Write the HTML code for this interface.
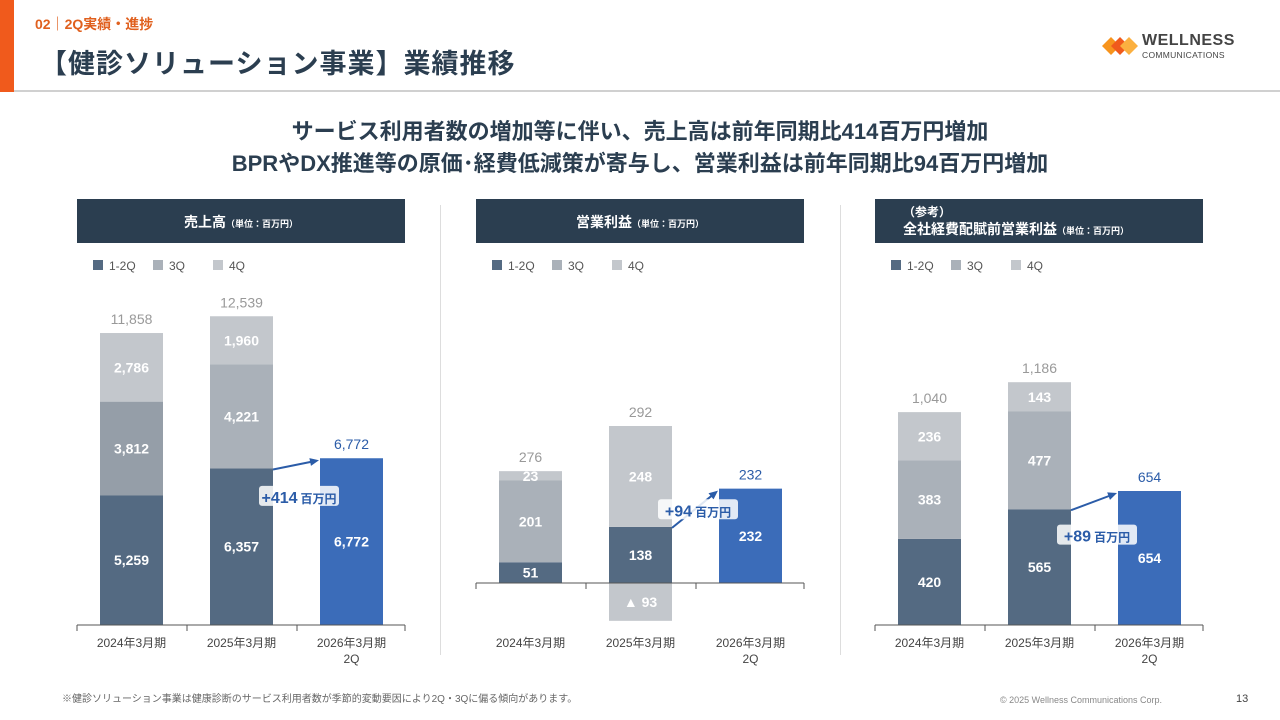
<!DOCTYPE html>
<html><head><meta charset="utf-8"><style>
body{margin:0;width:1280px;height:720px;background:#fff;font-family:"Liberation Sans","Noto Sans CJK JP",sans-serif;position:relative;overflow:hidden}
.abs{position:absolute}
</style></head><body>
<div class="abs" style="left:0;top:0;width:14px;height:92px;background:#f05a1c"></div>
<div class="abs" style="left:35px;top:14px;font-size:14px;color:#e0601e;font-weight:bold">02｜2Q実績・進捗</div>
<div class="abs" style="left:40px;top:42px;font-size:27px;color:#2b3e50;font-weight:bold;letter-spacing:1px">【健診ソリューション事業】業績推移</div>
<div class="abs" style="left:14px;top:90px;width:1266px;height:2px;background:#d0d0d0"></div>
<div class="abs" style="left:1102px;top:33px;width:140px;height:30px">
<svg width="36" height="24" style="position:absolute;left:0;top:2px"><polygon points="0,11 9,2 18,11 9,20" fill="#f7941d"/><polygon points="9,11 18,2 27,11 18,20" fill="#f05a1c"/><polygon points="18,11 27,2 36,11 27,20" fill="#fbb040"/></svg>
<div style="position:absolute;left:40px;top:-1px;font-size:16px;font-weight:bold;color:#444;letter-spacing:0.5px">WELLNESS</div>
<div style="position:absolute;left:40px;top:17px;font-size:8.5px;color:#444;letter-spacing:0.3px">COMMUNICATIONS</div></div>
<div class="abs" style="left:0;width:1280px;top:116px;text-align:center;font-size:22px;font-weight:bold;color:#2b3e50;line-height:32px">サービス利用者数の増加等に伴い、売上高は前年同期比414百万円増加<br>BPRやDX推進等の原価･経費低減策が寄与し、営業利益は前年同期比94百万円増加</div>
<div class="abs" style="left:440px;top:205px;width:1px;height:450px;background:#ddd"></div>
<div class="abs" style="left:840px;top:205px;width:1px;height:450px;background:#ddd"></div>
<div class="abs" style="left:62px;top:690px;font-size:10px;color:#666">※健診ソリューション事業は健康診断のサービス利用者数が季節的変動要因により2Q・3Qに偏る傾向があります。</div>
<div class="abs" style="left:1000px;top:695px;font-size:9px;color:#888">© 2025 Wellness Communications Corp.</div>
<div class="abs" style="left:1236px;top:693px;font-size:11px;color:#444">13</div>
<svg id="chart" class="abs" style="left:0;top:0" width="1280" height="720"></svg>
<script>
const categories=["2024年3月期","2025年3月期","2026年3月期|2Q"];
const salesH1=[5259,6357,6772];
const sales3Q=[3812,4221,0];
const sales4Q=[2786,1960,0];
const salesTotal=[11858,12539,6772];
const opH1=[51,138,232];
const op3Q=[201,-93,0];
const op4Q=[23,248,0];
const opTotal=[276,292,232];
const corpH1=[420,565,654];
const corp3Q=[383,477,0];
const corp4Q=[236,143,0];
const corpTotal=[1040,1186,654];
const deltas=["+414","+94","+89"];
const titles=[["売上高","（単位：百万円）"],["営業利益","（単位：百万円）"],["（参考）|全社経費配賦前営業利益","（単位：百万円）"]];
const svg=document.getElementById('chart');
const NS="http://www.w3.org/2000/svg";
function mk(t,a,txt){const e=document.createElementNS(NS,t);for(const k in a)e.setAttribute(k,a[k]);if(txt!==undefined)e.textContent=txt;svg.appendChild(e);return e;}
const charts=[
 {x0:77,base:625,scale:292/11858,h1:salesH1,q3:sales3Q,q4:sales4Q,tot:salesTotal,q3c:["#959ea8","#aab1b9"],ldy:32},
 {x0:476,base:583,scale:157/386,h1:opH1,q3:op3Q,q4:op4Q,tot:opTotal,q3c:["#aab1b9","#c3c7cc"],ldy:1},
 {x0:875,base:625,scale:243/1186,h1:corpH1,q3:corp3Q,q4:corp4Q,tot:corpTotal,q3c:["#aab1b9","#aab1b9"],ldy:34}
];
charts.forEach((c,ci)=>{
 const hd=mk('rect',{x:c.x0,y:199,width:328,height:44,fill:"#2b3e50"});
 
 
 const tl=titles[ci][0].split('|');
 if(tl.length==1){const t=mk('text',{x:c.x0+164,y:227,'text-anchor':'middle',fill:'#fff','font-size':14,'font-weight':'bold'});t.innerHTML=tl[0]+'<tspan font-size="9">'+titles[ci][1]+'</tspan>';}
 else{mk('text',{x:c.x0+28,y:216,fill:'#fff','font-size':12,'font-weight':'bold'},tl[0]);const t=mk('text',{x:c.x0+28,y:234,fill:'#fff','font-size':14,'font-weight':'bold'});t.innerHTML=tl[1]+'<tspan font-size="9">'+titles[ci][1]+'</tspan>';}
 [["1-2Q","#546a82"],["3Q","#aab1b9"],["4Q","#c3c7cc"]].forEach((l,i)=>{
  const lx=c.x0+16+i*60;
  const r=mk('rect',{x:lx,y:260,width:10,height:10,fill:l[1]});
  
  
  mk('text',{x:lx+16,y:270,'font-size':12,fill:'#555'},l[0]);
 });
 const bw=63,slot=110;
 const bx=i=>c.x0+23+i*slot;
 const Y=v=>c.base-v*c.scale;
 categories.forEach((cat,i)=>{
  const x=bx(i);const last=i==2;
  const b1=mk('rect',{x:x,y:Y(c.h1[i]),width:bw,height:c.h1[i]*c.scale,fill:last?"#3b6cb9":"#546a82"});
  
  
  mk('text',{x:x+bw/2,y:(Y(c.h1[i])+c.base)/2+5,'text-anchor':'middle',fill:'#fff','font-size':14,'font-weight':'bold'},c.h1[i].toLocaleString());
  let top=c.h1[i];
  if(c.q3[i]>0){
   const b=mk('rect',{x:x,y:Y(top+c.q3[i]),width:bw,height:c.q3[i]*c.scale,fill:c.q3c[i]||"#aab1b9"});
   
   
   mk('text',{x:x+bw/2,y:Y(top+c.q3[i]/2)+5,'text-anchor':'middle',fill:'#fff','font-size':14,'font-weight':'bold'},c.q3[i].toLocaleString());
   top+=c.q3[i];
  } else if(c.q3[i]<0){
   const b=mk('rect',{x:x,y:c.base,width:bw,height:-c.q3[i]*c.scale,fill:"#c3c7cc"});
   
   
   mk('text',{x:x+bw/2,y:c.base-c.q3[i]*c.scale/2+5,'text-anchor':'middle',fill:'#fff','font-size':14,'font-weight':'bold'},'▲ '+(-c.q3[i]));
  }
  if(c.q4[i]>0){
   const b=mk('rect',{x:x,y:Y(top+c.q4[i]),width:bw,height:c.q4[i]*c.scale,fill:"#c3c7cc"});
   
   
   mk('text',{x:x+bw/2,y:Y(top+c.q4[i]/2)+5,'text-anchor':'middle',fill:'#fff','font-size':14,'font-weight':'bold'},c.q4[i].toLocaleString());
   top+=c.q4[i];
  }
  mk('text',{x:x+bw/2,y:Y(top)-9,'text-anchor':'middle',fill:last?'#2b5ca8':'#999','font-size':14},c.tot[i].toLocaleString());
  const cl=cat.split('|');
  cl.forEach((s,k)=>mk('text',{x:x+bw/2,y:647+k*16,'text-anchor':'middle',fill:'#444','font-size':12},s));
 });
 const ax=mk('line',{x1:c.x0,x2:c.x0+328,y1:c.base,y2:c.base,stroke:'#555','stroke-width':1});
 
 
 [0,1,2,3].forEach(k=>{const tx=c.x0+k*slot-(k==3?2:0);mk('line',{x1:tx,x2:tx,y1:c.base,y2:c.base+6,stroke:'#555'});});
 const prevTop=c.h1[1], curTop=c.h1[2];
 const x1=bx(1)+bw,y1=Y(prevTop)+1,x2=bx(2)-1,y2=Y(curTop)+2;
 mk('line',{x1:x1,y1:y1,x2:x2-5,y2:y2+(y1-y2)*5/(x2-x1),stroke:'#2b5ca8','stroke-width':2});
 const ang=Math.atan2(y2-y1,x2-x1);
 const p=[[x2,y2],[x2-9*Math.cos(ang)+4*Math.sin(ang),y2-9*Math.sin(ang)-4*Math.cos(ang)],[x2-9*Math.cos(ang)-4*Math.sin(ang),y2-9*Math.sin(ang)+4*Math.cos(ang)]];
 mk('polygon',{points:p.map(q=>q.join(',')).join(' '),fill:'#2b5ca8'});
 const lx=(x1+x2)/2+3, ly=(y1+y2)/2+c.ldy;
 mk('rect',{x:lx-40,y:ly-11,width:80,height:20,fill:'#fff',opacity:0.85,rx:3});
 const t=mk('text',{x:lx,y:ly+6,'text-anchor':'middle',fill:'#2b5ca8','font-size':16,'font-weight':'bold'});
 t.innerHTML=deltas[ci]+'<tspan font-size="12" dx="3">百万円</tspan>';
 
 
});
</script>
</body></html>
